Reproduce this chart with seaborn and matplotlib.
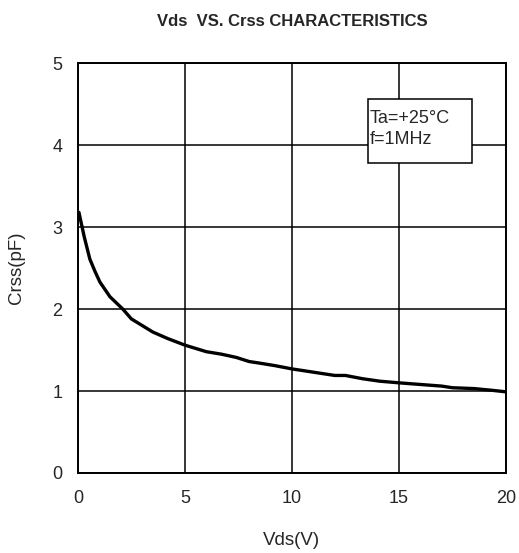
import matplotlib
matplotlib.use("Agg")
import matplotlib.pyplot as plt
import matplotlib.patches as patches
import seaborn as sns
import pandas as pd

# curve
vds = [0.05, 0.3, 0.56, 0.8, 1.03, 1.5, 2.1, 2.5, 3.0, 3.5, 4.2, 5.0, 5.5, 6.0, 6.7, 7.4, 8.0,
       8.5, 9.2, 10.0, 11.0, 12.0, 12.5, 13.3, 14.1, 15.0, 16.0, 17.0, 17.5, 18.5, 19.3, 20.0]
crss = [3.18, 2.88, 2.61, 2.46, 2.33, 2.15, 2.00, 1.88, 1.80, 1.72, 1.64, 1.56, 1.52, 1.48, 1.45, 1.41, 1.36,
        1.34, 1.31, 1.27, 1.23, 1.19, 1.19, 1.15, 1.12, 1.10, 1.08, 1.06, 1.04, 1.03, 1.01, 0.99]

xticks = [0, 5, 10, 15, 20]
yticks = [0, 1, 2, 3, 4, 5]
note_lines = ["Ta=+25\u00b0C", "f=1MHz"]

df = pd.DataFrame({"Vds": vds, "Crss": crss})

sns.set_style("white")
plt.rcParams['font.family'] = ['Liberation Sans', 'DejaVu Sans']

fig = plt.figure(figsize=(5.19, 5.53), dpi=100)
ax = fig.add_axes([0.150, 0.1447, 0.825, 0.741])

sns.lineplot(data=df, x="Vds", y="Crss", color="black", linewidth=2.4, ax=ax, zorder=3)

ax.set_xlim(0, 20)
ax.set_ylim(0, 5)
ax.set_xticks(xticks)
ax.set_yticks(yticks)
ax.grid(True, color="black", linewidth=1.1)
for s in ax.spines.values():
    s.set_color("black")
    s.set_linewidth(1.4)
ax.tick_params(axis="x", length=0, labelsize=13, pad=12)
ax.tick_params(axis="y", length=0, labelsize=13, pad=11)
ax.set_xlabel("Vds(V)", fontsize=13.5, labelpad=18)
ax.set_ylabel("Crss(pF)", fontsize=13.5, labelpad=20)
ax.set_title("Vds  VS. Crss CHARACTERISTICS", fontsize=12, fontweight="bold", pad=27)

# condition box
box = patches.Rectangle((13.55, 3.78), 4.85, 0.78, facecolor="white", edgecolor="black",
                        linewidth=1.1, zorder=4)
ax.add_patch(box)
ax.text(13.62, 4.32, note_lines[0], fontsize=13, va="center", ha="left", zorder=5)
ax.text(13.62, 4.07, note_lines[1], fontsize=13, va="center", ha="left", zorder=5)

fig.savefig("out.png", dpi=100)
